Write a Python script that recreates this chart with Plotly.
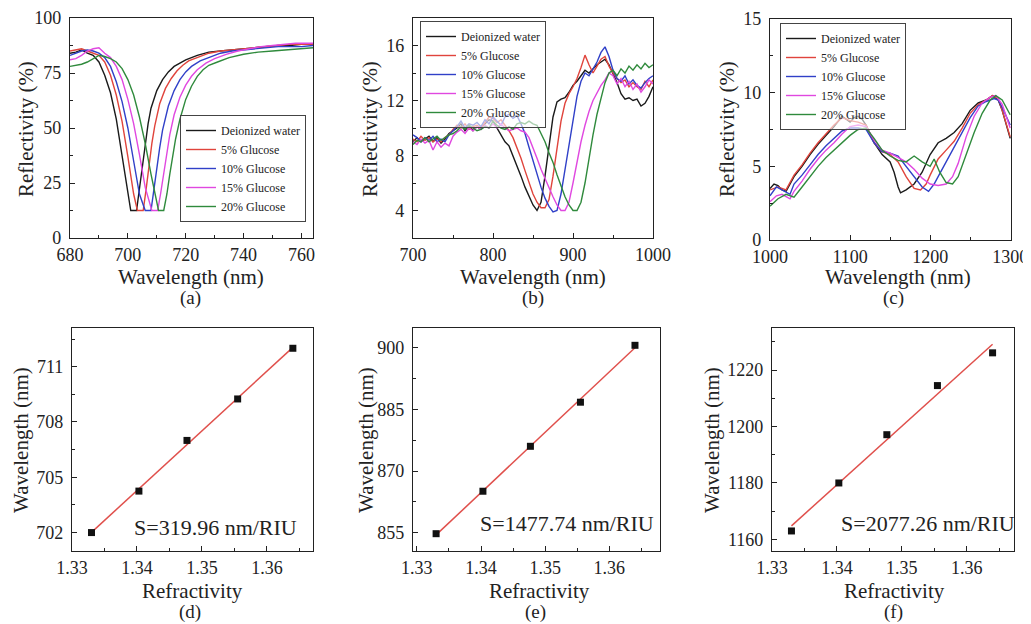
import numpy as np
import plotly.graph_objects as go

W, H = 1031, 624
OFF = 8  # page body margin offset in the rendered page
FONT = "'Liberation Serif', 'Times New Roman', Times, 'DejaVu Serif', serif"

series_names = ["Deionized water", "5% Glucose", "10% Glucose", "15% Glucose", "20% Glucose"]
series_colors = ["#1a1a1a", "#e0443c", "#3040c8", "#e048e0", "#2f8a3c"]

# ---------------- Panel (a) ----------------
a_x_water = [680, 682, 684, 686, 688, 690, 692, 694, 696, 698, 700, 701, 703, 704, 705, 706, 707, 708, 710, 712, 714, 716, 718, 720, 724, 728, 732, 736, 740, 744, 748, 752, 756, 760, 764]
a_y_water = [84, 84.5, 85.5, 84, 83, 80, 74, 66, 54, 38, 20, 12.5, 12.5, 22, 33, 43, 52, 59, 67, 72, 75.5, 78, 79.5, 81, 83, 84.5, 85, 85.5, 86, 86.5, 87, 87.5, 87.5, 88, 88]
a_x_g5 = [680, 682, 684, 686, 688, 690, 692, 694, 696, 698, 700, 702, 703.3, 705.3, 706.3, 707.3, 708.3, 709.3, 711, 713, 715, 717, 719, 721, 724, 728, 732, 736, 740, 744, 748, 752, 756, 760, 764]
a_y_g5 = [85, 85.5, 86, 85, 84, 83, 80, 74, 65, 53, 37, 20, 12.5, 12.5, 22, 33, 43, 51, 61, 68, 72.5, 76, 78.5, 80.5, 82, 84, 85, 85.5, 86, 86.5, 87, 87.5, 88, 88, 88]
a_x_g10 = [680, 682, 684, 686, 688, 690, 692, 694, 696, 698, 700, 702, 704, 706, 708, 709, 710, 711, 712, 714, 716, 718, 720, 722, 725, 728, 732, 736, 740, 744, 748, 752, 756, 760, 764]
a_y_g10 = [83, 84, 85, 85.5, 85, 84, 82, 78, 71, 62, 50, 35, 20, 12.5, 12.5, 22, 32, 41, 49, 60, 67, 72, 75.5, 78, 80.5, 82, 84, 85, 85.5, 86, 86.5, 87, 87, 87, 87.5]
a_x_g15 = [680, 682, 684, 686, 688, 690, 692, 694, 696, 698, 700, 702, 704, 706, 708.3, 710.3, 711.3, 712.3, 713.3, 714.5, 716, 718, 720, 722, 724, 727, 730, 734, 738, 742, 746, 750, 754, 758, 762, 764]
a_y_g15 = [81, 81.5, 83, 85, 86, 86.5, 84, 82, 78, 72, 63, 52, 38, 23, 12.5, 12.5, 20, 29, 38, 47, 56, 64, 69.5, 73.5, 76.5, 79.5, 81.5, 83.5, 85, 86, 87, 87.5, 88, 88.5, 88.5, 88.5]
a_x_g20 = [680, 682, 684, 686, 688, 690, 692, 694, 696, 698, 700, 702, 704, 706, 708, 710.6, 712.4, 713.5, 714.5, 715.5, 716.5, 718, 720, 722, 724, 726, 728, 731, 735, 740, 745, 750, 755, 760, 764]
a_y_g20 = [78, 78.5, 79, 80, 81.5, 83, 82.5, 81.5, 80, 77, 72, 65, 55, 43, 29, 12.5, 12.5, 20, 29, 37, 45, 54, 63, 69, 73.5, 76.5, 78.5, 80, 82, 83.5, 84.5, 85, 85.5, 86, 86.5]

# ---------------- Panel (b) ----------------
b_x = [700, 705, 710, 715, 720, 725, 730, 735, 740, 745, 750, 755, 760, 765, 770, 775, 780, 785, 790, 795,
       800, 805, 810, 815, 820, 825, 830, 835, 840, 845, 850, 855, 860, 865, 870, 875, 880, 885, 890, 895,
       900, 905, 910, 915, 920, 925, 930, 935, 940, 945, 950, 955, 960, 965, 970, 975, 980, 985, 990, 995, 1000]
b_y_water = [9.0, 9.3, 9.0, 9.2, 9.4, 9.0, 9.3, 8.9, 9.2, 9.6, 9.8, 10.0, 10.3, 9.8, 10.2, 9.8, 10.1, 9.9, 10.3, 10.6,
             10.5, 10.0, 9.6, 9.0, 8.7, 8.0, 7.3, 6.5, 5.7, 5.0, 4.4, 4.0, 4.6, 6.5, 8.8, 10.8, 11.9, 12.1, 12.2, 12.6,
             13.1, 13.4, 13.8, 14.2, 14.0, 14.3, 14.6, 14.8, 15.0, 14.6, 14.0, 13.3, 12.5, 12.1, 12.2, 12.0, 12.1, 11.6, 11.8, 12.3, 13.0]
b_y_g5 = [9.2, 9.0, 9.4, 9.1, 9.3, 9.0, 9.2, 9.0, 9.3, 9.5, 9.9, 10.2, 10.0, 10.3, 9.9, 10.1, 10.2, 10.0, 10.4, 10.8,
          10.7, 10.4, 10.6, 10.2, 9.8, 9.3, 8.6, 7.8, 6.9, 6.0, 5.2, 4.6, 4.2, 4.2, 4.8, 6.5, 8.5, 10.5, 11.8, 12.5,
          13.0, 13.6, 14.4, 15.3, 14.6, 14.0, 14.5, 15.0, 15.2, 14.5, 14.0, 13.6, 13.3, 13.5, 13.0, 13.3, 13.0, 12.8, 13.4, 13.0, 13.5]
b_y_g10 = [9.5, 9.3, 9.0, 9.3, 9.1, 9.4, 9.0, 9.2, 9.0, 9.5, 9.8, 10.1, 10.5, 10.0, 10.3, 10.2, 10.4, 10.1, 10.6, 10.3,
           10.8, 10.5, 10.2, 10.8, 11.0, 10.7, 10.9, 10.3, 9.6, 8.6, 7.6, 6.6, 5.7, 4.9, 4.3, 3.9, 4.0, 5.2, 7.0, 9.0,
           10.8, 12.3, 13.4, 14.0, 13.8, 14.3, 14.8, 15.5, 15.9, 15.2, 14.2, 13.6, 13.4, 13.8, 13.2, 13.5, 13.1, 12.9, 13.3, 13.6, 13.8]
b_y_g15 = [9.0, 8.8, 9.2, 8.9, 9.1, 8.4, 9.0, 8.6, 8.9, 8.7, 9.4, 9.7, 9.9, 9.6, 10.0, 9.8, 10.1, 9.9, 10.2, 10.0,
           10.3, 10.0, 10.3, 10.0, 9.8, 9.9, 10.0, 9.8, 9.7, 9.3, 8.6, 7.8, 7.0, 6.3, 5.6, 5.0, 4.4, 4.0, 4.0, 4.6,
           6.0, 7.6, 9.0, 10.2, 11.2, 12.0, 12.6, 13.1, 13.5, 14.0, 13.8, 13.2, 13.6, 13.0, 13.4, 12.8, 13.2, 12.6, 13.0, 13.5, 13.2]
b_y_g20 = [8.8, 9.1, 9.0, 9.3, 9.0, 9.2, 9.4, 9.1, 9.3, 9.5, 9.6, 9.8, 10.1, 9.9, 10.2, 10.0, 9.8, 9.9, 10.1, 10.0,
           10.5, 10.2, 10.0, 9.9, 10.1, 9.9, 10.3, 10.4, 10.3, 10.5, 10.3, 10.2, 9.6, 9.0, 8.2, 7.5, 6.6, 5.8, 5.0, 4.4,
           4.0, 4.0, 4.6, 6.0, 7.8, 9.5, 11.0, 12.2, 13.3, 14.0, 14.2, 13.8, 14.3, 14.0, 14.5, 14.2, 14.6, 14.3, 14.7, 14.4, 14.6]

# ---------------- Panel (c) ----------------
c_x_water = [1000, 1005, 1010, 1015, 1020, 1030, 1040, 1050, 1060, 1070, 1080, 1090, 1095, 1100, 1105, 1110, 1115, 1120, 1130, 1140, 1150, 1155, 1160, 1163, 1170, 1180, 1190, 1200, 1210, 1220, 1230, 1240, 1250, 1260, 1270, 1278, 1285, 1290, 1300]
c_y_water = [3.5, 3.8, 3.7, 3.4, 3.3, 4.3, 5.0, 5.8, 6.5, 7.1, 7.7, 8.4, 8.2, 8.0, 8.3, 8.4, 8.2, 7.8, 6.6, 5.8, 5.3, 4.6, 3.6, 3.2, 3.4, 3.8, 4.6, 5.8, 6.6, 6.9, 7.3, 7.9, 8.8, 9.3, 9.5, 9.8, 9.5, 8.8, 6.9]
c_x_g5 = [1000, 1010, 1020, 1030, 1040, 1050, 1060, 1070, 1080, 1090, 1100, 1110, 1120, 1130, 1140, 1150, 1160, 1170, 1180, 1188, 1195, 1200, 1210, 1220, 1230, 1240, 1250, 1260, 1270, 1278, 1285, 1290, 1300]
c_y_g5 = [3.4, 3.6, 3.4, 4.4, 5.1, 5.9, 6.6, 7.2, 7.8, 8.3, 8.1, 8.0, 7.8, 6.6, 6.0, 5.8, 5.3, 4.3, 3.5, 3.4, 3.8, 4.4, 5.5, 6.1, 6.7, 7.6, 8.6, 9.2, 9.5, 9.8, 9.6, 8.8, 7.0]
c_x_g10 = [1000, 1008, 1015, 1025, 1030, 1040, 1050, 1060, 1070, 1080, 1090, 1100, 1110, 1120, 1130, 1140, 1150, 1160, 1170, 1180, 1190, 1198, 1205, 1210, 1220, 1230, 1240, 1250, 1260, 1270, 1280, 1285, 1290, 1300]
c_y_g10 = [3.0, 3.6, 3.4, 3.1, 3.8, 4.4, 5.1, 5.8, 6.4, 6.9, 7.4, 7.6, 7.6, 7.5, 6.6, 6.0, 5.9, 5.7, 5.0, 4.3, 3.6, 3.3, 3.8, 4.3, 5.3, 6.3, 7.3, 8.3, 9.1, 9.4, 9.6, 9.5, 9.0, 7.8]
c_x_g15 = [1000, 1008, 1015, 1025, 1030, 1040, 1050, 1060, 1070, 1080, 1090, 1100, 1110, 1120, 1130, 1140, 1150, 1160, 1170, 1180, 1190, 1200, 1210, 1220, 1228, 1235, 1245, 1255, 1265, 1275, 1282, 1290, 1300]
c_y_g15 = [2.6, 3.0, 3.1, 2.8, 3.3, 4.0, 4.8, 5.5, 6.1, 6.6, 7.2, 7.7, 7.8, 7.7, 6.8, 6.1, 5.9, 5.6, 5.3, 4.8, 4.2, 3.8, 3.7, 3.8, 4.3, 5.2, 7.0, 8.4, 9.3, 9.7, 9.8, 9.2, 7.6]
c_x_g20 = [1000, 1010, 1020, 1030, 1040, 1050, 1060, 1070, 1080, 1090, 1100, 1110, 1120, 1130, 1140, 1150, 1160, 1170, 1180, 1190, 1200, 1205, 1212, 1220, 1228, 1235, 1245, 1255, 1265, 1275, 1282, 1290, 1300]
c_y_g20 = [2.3, 2.8, 3.1, 2.9, 3.6, 4.3, 5.0, 5.6, 6.1, 6.6, 7.1, 7.5, 7.6, 6.9, 6.1, 5.7, 5.4, 5.3, 5.7, 5.3, 5.0, 5.5, 4.6, 3.9, 3.8, 4.3, 5.8, 7.3, 8.6, 9.5, 9.8, 9.5, 8.5]

# ---------------- Panels (d)-(f) ----------------
refractivity = [1.3330, 1.3403, 1.3477, 1.3555, 1.3640]
d_wavelength = [702.0, 704.25, 707.0, 709.25, 712.0]
e_wavelength = [854.8, 865.1, 876.0, 886.7, 900.5]
f_wavelength = [1163.0, 1180.0, 1197.1, 1214.5, 1226.1]
sensitivity_labels = ["S=319.96 nm/RIU", "S=1477.74 nm/RIU", "S=2077.26 nm/RIU"]


def fx(px):
    return (px - OFF) / W


def fy(py):
    return 1 - (py - OFF) / H


fig = go.Figure()

spectra = [
    ([a_x_water, a_x_g5, a_x_g10, a_x_g15, a_x_g20], [a_y_water, a_y_g5, a_y_g10, a_y_g15, a_y_g20], "x", "y", "legend"),
    ([b_x] * 5, [b_y_water, b_y_g5, b_y_g10, b_y_g15, b_y_g20], "x2", "y2", "legend2"),
    ([c_x_water, c_x_g5, c_x_g10, c_x_g15, c_x_g20], [c_y_water, c_y_g5, c_y_g10, c_y_g15, c_y_g20], "x3", "y3", "legend3"),
]
for xs, ys, xa, ya, lg in spectra:
    for name, col, xv, yv in zip(series_names, series_colors, xs, ys):
        fig.add_trace(go.Scatter(x=xv, y=yv, mode="lines", name=name, xaxis=xa, yaxis=ya,
                                 legend=lg, line=dict(color=col, width=1.4)))

for wl, xa, ya in [(d_wavelength, "x4", "y4"), (e_wavelength, "x5", "y5"), (f_wavelength, "x6", "y6")]:
    slope, icpt = np.polyfit(refractivity, wl, 1)
    xl = [refractivity[0], refractivity[-1]]
    fig.add_trace(go.Scatter(x=xl, y=[slope * v + icpt for v in xl], mode="lines", showlegend=False,
                             xaxis=xa, yaxis=ya, line=dict(color="#e0504c", width=1.5)))
    fig.add_trace(go.Scatter(x=refractivity, y=wl, mode="markers", showlegend=False, xaxis=xa, yaxis=ya,
                             marker=dict(symbol="square", size=7, color="#111111")))

tickfont = dict(family=FONT, size=18, color="#222")


def axis(domain, rng, dtick, minor, anchor, is_x, tick0=None):
    d = dict(domain=domain, range=rng, dtick=dtick, anchor=anchor, showgrid=False, zeroline=False,
             automargin=False, showline=True, mirror=True, linecolor="#222", linewidth=1.3,
             ticks="inside", ticklen=5, tickcolor="#222", tickfont=tickfont,
             ticklabeloverflow="allow", ticklabelstandoff=(0 if is_x else 4),
             minor=dict(dtick=minor, ticks="inside", ticklen=3, tickcolor="#222", showgrid=False))
    if tick0 is not None:
        d["tick0"] = tick0
        d["minor"]["tick0"] = tick0
    return d


top_y = [fy(238), fy(18)]
bot_y = [fy(551), fy(328)]

layout = dict(
    width=W, height=H, margin=dict(l=0, r=0, t=0, b=0, pad=0, autoexpand=False), autosize=False,
    paper_bgcolor="white", plot_bgcolor="white", font=dict(family=FONT, color="#222"),
    xaxis=axis([fx(70), fx(313)], [680, 764], 20, 10, "y", True),
    yaxis=axis(top_y, [0, 100], 25, 12.5, "x", False),
    xaxis2=axis([fx(413), fx(653)], [700, 1000], 100, 50, "y2", True),
    yaxis2=axis(top_y, [2, 18], 4, 2, "x2", False, tick0=0),
    xaxis3=axis([fx(770), fx(1011)], [1000, 1301], 100, 50, "y3", True),
    yaxis3=axis([fy(240), fy(19)], [0, 15], 5, 2.5, "x3", False),
    xaxis4=axis([fx(72), fx(313)], [1.33, 1.3671], 0.01, 0.005, "y4", True, tick0=1.33),
    yaxis4=axis(bot_y, [701.0, 713.1], 3, 1.5, "x4", False, tick0=702),
    xaxis5=axis([fx(413), fx(660)], [1.3294, 1.3679], 0.01, 0.005, "y5", True, tick0=1.33),
    yaxis5=axis(bot_y, [850.6, 904.7], 15, 7.5, "x5", False, tick0=855),
    xaxis6=axis([fx(772), fx(1014)], [1.33, 1.3673], 0.01, 0.005, "y6", True, tick0=1.33),
    yaxis6=axis(bot_y, [1155.9, 1234.9], 20, 10, "x6", False, tick0=1160),
)

legend_common = dict(bgcolor="rgba(255,255,255,0.6)", bordercolor="#444", borderwidth=1, itemwidth=30,
                     font=dict(family=FONT, size=12, color="#222"), tracegroupgap=0,
                     xanchor="left", yanchor="top")
layout["legend"] = dict(legend_common, x=fx(180), y=fy(222), yanchor="bottom")
layout["legend2"] = dict(legend_common, x=fx(420), y=fy(21))
layout["legend3"] = dict(legend_common, x=fx(780), y=fy(23))

ann = []


def add_text(text, px, py, size, angle=0):
    ann.append(dict(text=text, x=fx(px), y=fy(py), xref="paper", yref="paper", showarrow=False,
                    xanchor="center", yanchor="middle", textangle=angle,
                    font=dict(family=FONT, size=size, color="#222")))


for px in (26, 370, 727):
    add_text("Reflectivity (%)", px, 129, 21, -90)
for px in (21, 366, 712):
    add_text("Wavelength (nm)", px, 440, 21, -90)
for px in (191, 533, 898):
    add_text("Wavelength (nm)", px, 277, 21)
for px in (192, 539, 895):
    add_text("Refractivity", px, 591, 21)
for lab, px, py in [("(a)", 190, 298), ("(b)", 533, 298), ("(c)", 893, 298),
                    ("(d)", 190, 612), ("(e)", 535, 612), ("(f)", 893, 612)]:
    add_text(lab, px, py, 19)
for lab, px, py in zip(sensitivity_labels, (215, 567, 928), (527, 523, 523)):
    add_text(lab, px, py, 22)

layout["annotations"] = ann
fig.update_layout(**layout)
fig.write_html("out.html")
